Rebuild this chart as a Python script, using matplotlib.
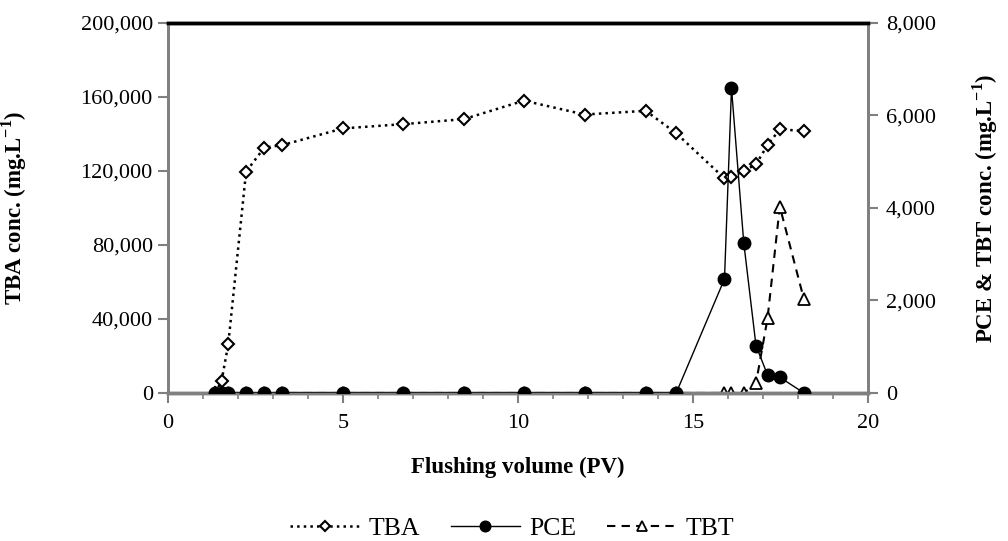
import matplotlib
matplotlib.use("Agg")
import matplotlib.pyplot as plt
from matplotlib.ticker import FuncFormatter, MultipleLocator

plt.rcParams['font.family'] = ['Liberation Serif', 'DejaVu Serif']
plt.rcParams['mathtext.fontset'] = 'custom'
plt.rcParams['mathtext.rm'] = 'Liberation Serif'
plt.rcParams['mathtext.bf'] = 'Liberation Serif:bold'

# Data
pv = [1.35, 1.53, 1.72, 2.23, 2.75, 3.27, 5.0, 6.72, 8.45, 10.17, 11.9, 13.65,
      14.52, 15.9, 16.1, 16.45, 16.8, 17.13, 17.48, 18.17]
tba = [0, 6500, 26300, 119600, 132600, 134000, 143000, 145300, 148000, 158000,
       150500, 152500, 140400, 116000, 116600, 120000, 123600, 134000, 142500, 141600]
pce = [0, 0, 0, 0, 0, 0, 0, 0, 0, 0, 0, 0, 0, 2465, 6590, 3250, 1025, 390, 340, 0]
tbt = [0, 0, 0, 0, 0, 0, 0, 0, 0, 0, 0, 0, 0, 0, 0, 0, 210, 1615, 4030, 2025]

fig = plt.figure(figsize=(10.08, 5.41), dpi=100)
ax = fig.add_axes([0.1667, 0.2736, 0.6944, 0.684])
ax2 = ax.twinx()

l1, = ax.plot(pv, tba, linestyle=':', color='black', lw=1.8, marker='D',
              markersize=6, markerfacecolor='white', markeredgecolor='black',
              markeredgewidth=1.5, label='TBA', zorder=3)
l3, = ax2.plot(pv, tbt, linestyle=(0, (4, 3)), color='black', lw=1.5, marker='^',
               markersize=8, markerfacecolor='white', markeredgecolor='black',
               markeredgewidth=1.3, label='TBT', zorder=2)
l2, = ax2.plot(pv, pce, linestyle='-', color='black', lw=1.0, marker='o',
               markersize=9, markerfacecolor='black', markeredgecolor='black',
               label='PCE', zorder=3)

ax.set_xlim(0, 20)
ax.set_ylim(0, 200000)
ax2.set_ylim(0, 8000)
ax.xaxis.set_major_locator(MultipleLocator(5))
ax.xaxis.set_minor_locator(MultipleLocator(1))
ax.yaxis.set_major_locator(MultipleLocator(40000))
ax2.yaxis.set_major_locator(MultipleLocator(2000))
fmt = FuncFormatter(lambda v, p: f"{int(v):,}")
ax.yaxis.set_major_formatter(fmt)
ax2.yaxis.set_major_formatter(fmt)

gray = '#808080'
for a in (ax, ax2):
    a.spines['top'].set_color('black')
    a.spines['top'].set_linewidth(2.5)
    a.spines['left'].set_color(gray)
    a.spines['right'].set_color(gray)
    a.spines['bottom'].set_color(gray)
    a.spines['left'].set_linewidth(2)
    a.spines['right'].set_linewidth(2)
    a.spines['bottom'].set_linewidth(2.5)

ax.tick_params(axis='x', which='major', direction='out', length=7, width=1.5,
               color=gray, labelsize=16, pad=8)
ax.tick_params(axis='x', which='minor', direction='out', length=4, width=1.2, color=gray)
ax.tick_params(axis='y', which='major', direction='out', length=7, width=1.5,
               color=gray, labelsize=16, pad=4)
ax2.tick_params(axis='y', which='major', direction='out', length=7, width=1.5,
                color=gray, labelsize=16, pad=6)

ax.set_xlabel('Flushing volume (PV)', fontsize=16.5, fontweight='bold', labelpad=17)
ax.set_ylabel('TBA conc. (mg.L$^{\\mathbf{-1}}$)', fontsize=16.5, fontweight='bold')
ax2.set_ylabel('PCE & TBT conc. (mg.L$^{\\mathbf{-1}}$)', fontsize=16.5, fontweight='bold')
ax.yaxis.set_label_coords(-0.198, 0.5)
ax2.yaxis.set_label_coords(1.146, 0.5)

fig.legend([l1, l2, l3], ['TBA', 'PCE', 'TBT'], loc='center', bbox_to_anchor=(0.508, 0.024),
           ncol=3, frameon=False, fontsize=18.5, handlelength=2.7, columnspacing=1.2,
           handletextpad=0.35, markerscale=0.85)

fig.savefig('out.png', dpi=100)
